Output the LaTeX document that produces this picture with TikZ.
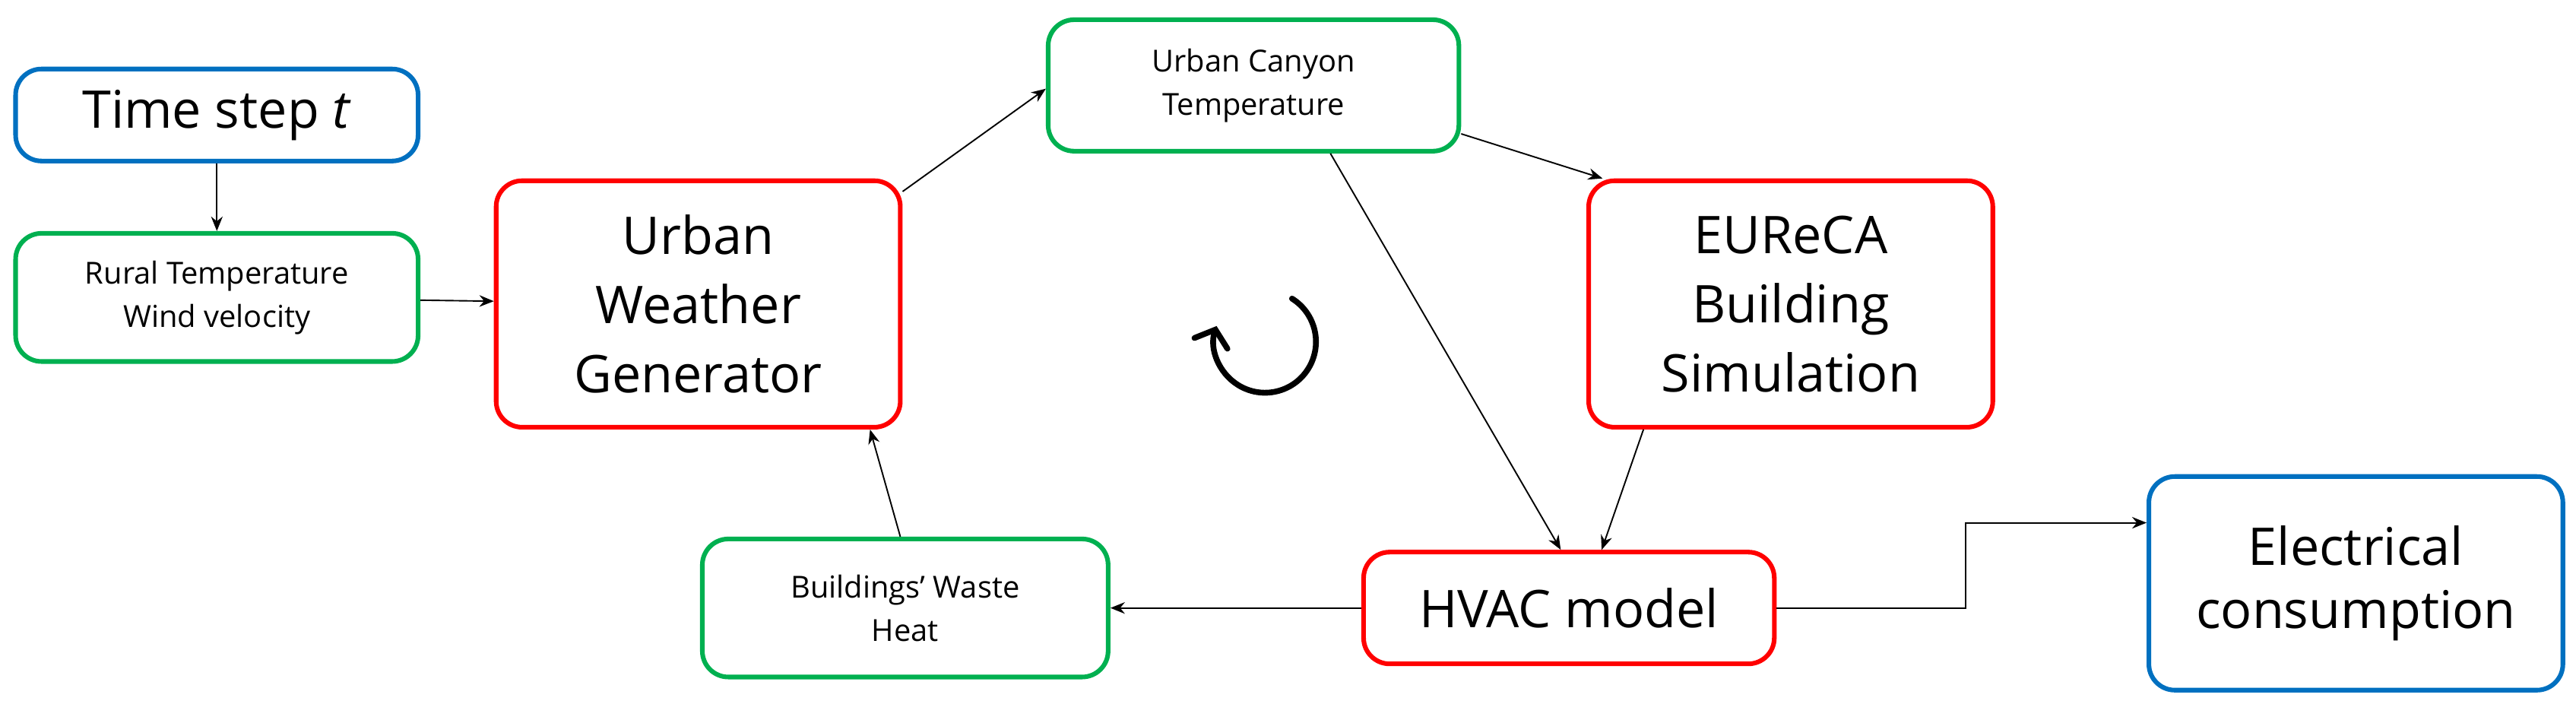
\documentclass[tikz,border=0pt]{standalone}
\usepackage{fontspec}
\setmainfont{Open Sans}
\usetikzlibrary{arrows.meta}
\definecolor{bl}{RGB}{0,112,192}
\definecolor{gr}{RGB}{0,176,80}
\definecolor{rd}{RGB}{255,0,0}
\def\u{0.567pt}
\begin{document}
\begin{tikzpicture}[x=0.02cm,y=-0.02cm,
 box/.style={draw,line width=1.6pt,rounded corners=9pt,align=center,inner sep=0pt},
 blue/.style={box,draw=bl,font=\fontsize{18}{22}\selectfont},
 green/.style={box,draw=gr,font=\fontsize{10.5}{15}\selectfont},
 red/.style={box,draw=rd,font=\fontsize{18}{24}\selectfont},
 arr/.style={-{Stealth[length=5pt,width=4pt]},line width=0.5pt}]
\useasboundingbox (0,0) rectangle (1568,428);
\node[blue,minimum width=245*0.02cm,minimum height=56*0.02cm] (ts) at (132,70) {Time step \textit{t}};
\node[green,minimum width=245*0.02cm,minimum height=78*0.02cm] (rt) at (132,181) {Rural Temperature\\Wind velocity};
\node[red,minimum width=246*0.02cm,minimum height=150*0.02cm] (uwg) at (425,185) {Urban\\Weather\\Generator};
\node[green,minimum width=250*0.02cm,minimum height=80*0.02cm] (uc) at (763,52) {Urban Canyon\\Temperature};
\node[red,minimum width=246*0.02cm,minimum height=150*0.02cm] (eu) at (1090,185) {EUReCA\\Building\\Simulation};
\node[red,minimum width=250*0.02cm,minimum height=68*0.02cm] (hv) at (955,370) {HVAC model};
\node[green,minimum width=247*0.02cm,minimum height=84*0.02cm] (wh) at (551,370) {Buildings’ Waste\\Heat};
\node[blue,minimum width=252*0.02cm,minimum height=130*0.02cm] (ec) at (1434,355) {Electrical\\consumption};
\draw[arr] (ts) -- (rt);
\draw[arr] (rt) -- (uwg);
\draw[arr] ([yshift=-8*\u]uwg.north east) -- ([yshift=-2*\u]uc.west);
\draw[arr] ([yshift=12*\u]uc.south east) -- ([xshift=-115*\u]eu.north);
\draw[arr] ([xshift=47*\u]uc.south) -- ([xshift=-5*\u]hv.north);
\draw[arr] ([xshift=-90*\u]eu.south) -- ([xshift=20*\u]hv.north);
\draw[arr] (hv) -- (wh);
\draw[arr] ([xshift=-3*\u]wh.north) -- ([xshift=105*\u]uwg.south);
\draw[arr] (hv.east) -- ++(115,0) |- ([yshift=37*\u]ec.west);
\draw[line width=2pt,line cap=round,-{Straight Barb[length=5pt,width=12pt,line cap=round]}] (770,208) ++(-58:31) arc (-58:198:31);
\end{tikzpicture}
\end{document}
